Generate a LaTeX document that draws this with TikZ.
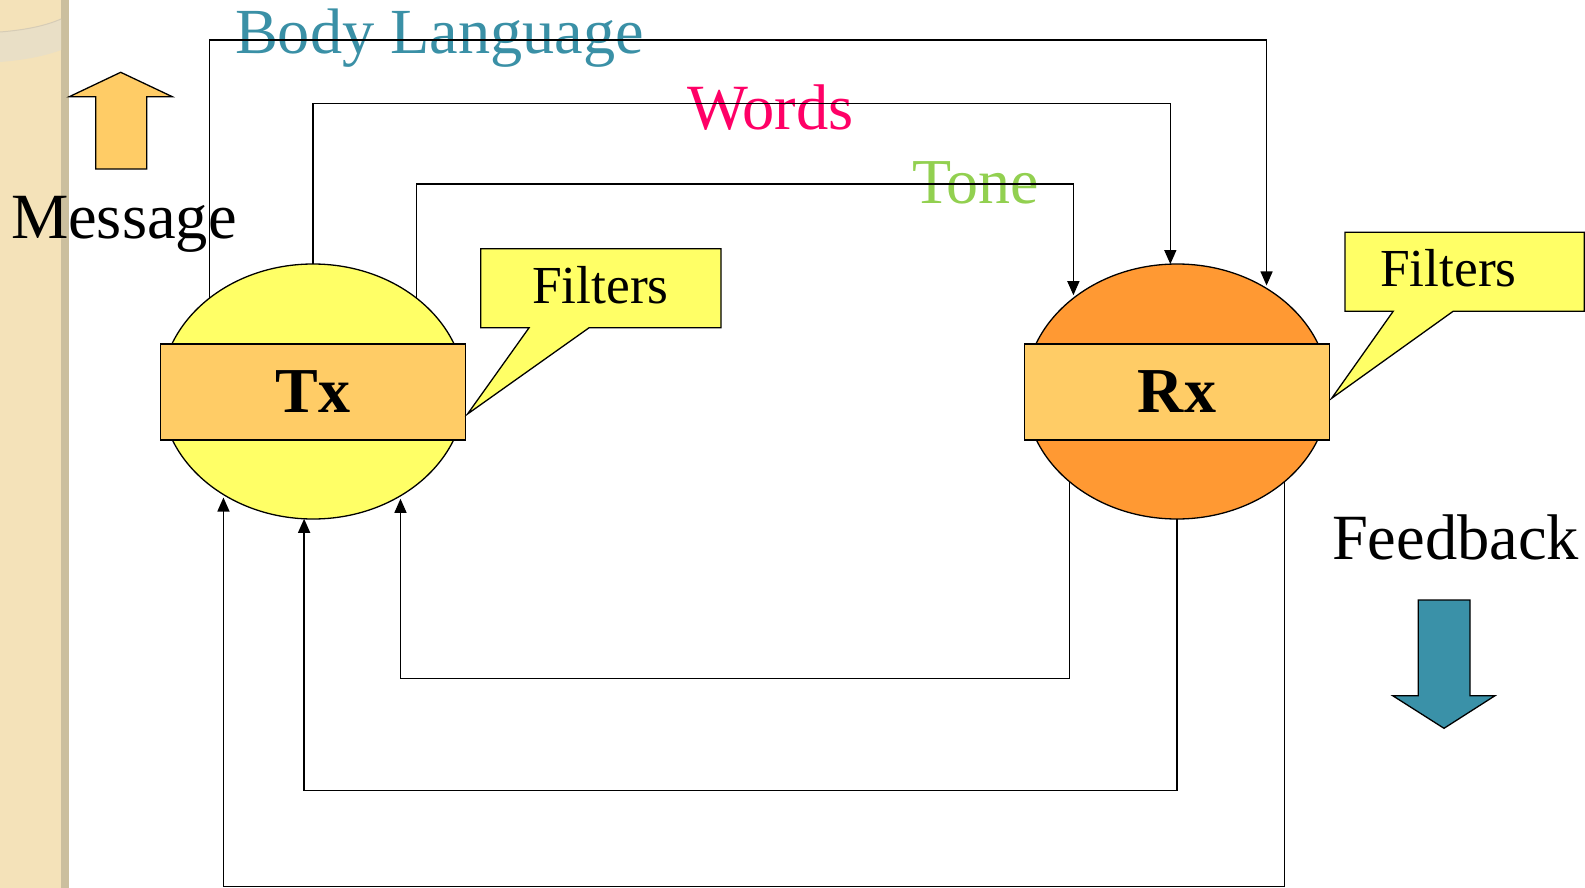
\documentclass[tikz,border=0pt]{standalone}
\usepackage{fontspec}
\setmainfont{Liberation Serif}
\usetikzlibrary{shapes.geometric,shapes.callouts,arrows.meta,calc}
\definecolor{txyellow}{HTML}{FFFF66}
\definecolor{boxorange}{HTML}{FFCC66}
\definecolor{rxorange}{HTML}{FF9933}
\definecolor{bodyteal}{HTML}{3A90A6}
\definecolor{wordpink}{HTML}{FF0066}
\definecolor{tonegreen}{HTML}{92D050}
\definecolor{fbteal}{HTML}{3A91A8}
\definecolor{beige}{HTML}{F4E2B9}
\definecolor{stripe}{HTML}{CBBF9E}
\definecolor{swoosh}{HTML}{E9DFC6}
\definecolor{swooshedge}{HTML}{D6CCB6}
\begin{document}
\begin{tikzpicture}[x=1pt,y=-1pt,
  link/.style={draw=black,line width=1.3pt},
  arr/.style={link,-{Triangle[length=14pt,width=12pt]},shorten >=3pt},
  blob/.style={ellipse,draw,line width=1.3pt,minimum width=304pt,minimum height=255pt,inner sep=0pt,outer sep=0pt},
  band/.style={draw,line width=1.3pt,fill=boxorange,minimum width=304.5pt,minimum height=96pt,inner sep=0pt,outer sep=0pt,font=\fontsize{64}{70}\selectfont\bfseries},
  bubble/.style={rectangle callout,draw,line width=1.3pt,fill=txyellow,minimum height=79pt,inner sep=0pt,outer sep=0pt,callout pointer width=60pt},
  lbl/.style={anchor=base west,inner sep=0pt,outer sep=0pt},
  big/.style={font=\fontsize{64.5}{70}\selectfont},
  filt/.style={font=\fontsize{53.5}{60}\selectfont},
  bigarrow/.style={draw,line width=1.3pt,line join=miter}]
\useasboundingbox (0,0) rectangle (1585,888);
\fill[white] (0,0) rectangle (1585,888);
% left decorative strip
\fill[beige] (0,0) rectangle (61,888);
\fill[stripe] (61,0) rectangle (69,888);
\fill[swoosh] (0,32) .. controls (25,30) and (45,26) .. (61,19) -- (61,50) .. controls (45,56) and (25,60) .. (0,62) -- cycle;
\draw[swooshedge,line width=1pt] (0,32) .. controls (25,30) and (45,26) .. (61,19);
% texts
\node[lbl,text=bodyteal,font=\fontsize{64.3}{70}\selectfont] (tbody) at (235,53.3) {Body Language};
\node[lbl,text=wordpink,font=\fontsize{64.5}{70}\selectfont] (twords) at (687,130) {Words};
\node[lbl,text=tonegreen,font=\fontsize{64}{70}\selectfont] (ttone) at (912,203.3) {Tone};
\node[lbl,big] (tmsg) at (11,238.3) {Message};
\node[lbl,big] (tfb) at (1332,559) {Feedback};
% big arrows
\draw[bigarrow,fill=boxorange] (120.7,72.3) -- (172.3,96.7) -- (146.7,96.7) -- (146.7,169) -- (95.7,169) -- (95.7,96.7) -- (69.3,96.7) -- cycle;
\draw[bigarrow,fill=fbteal] (1418.3,600) -- (1470,600) -- (1470,695.7) -- (1495,695.7) -- (1444,728.3) -- (1392.7,695.7) -- (1418.3,695.7) -- cycle;
% Tx and Rx
\node[blob,fill=txyellow] (tx) at (313,391.5) {};
\node[blob,fill=rxorange] (rx) at (1177,391.5) {};
\node[band] (txbox) at (313,392) {Tx};
\node[band] (rxbox) at (1177,392) {Rx};
% callouts
\node[bubble,minimum width=240.3pt,callout absolute pointer={($(txbox.east)+(2.3,22)$)}] (f1) at (600.9,288.3) {};
\node[lbl,filt] (f1t) at (532,303.3) {Filters};
\node[bubble,minimum width=239.3pt,callout absolute pointer={($(rxbox.east)+(2.4,6.3)$)}] (f2) at (1464.7,271.7) {};
\node[lbl,filt] (f2t) at (1380,286.7) {Filters};
% connectors Tx -> Rx
\coordinate (cbody) at (700,40);
\coordinate (cwords) at (700,103.8);
\coordinate (ctone) at (700,184);
\draw[arr] (tx.138.3) |- (cbody) -| (rx.49.7);
\draw[arr,shorten >=0pt] (tx.north) |- (cwords) -| (rx.93.6);
\draw[arr] (tx.42) |- (ctone) -| (rx.138.3);
% connectors Rx -> Tx (feedback)
\coordinate (fb1) at (700,678.3);
\coordinate (fb2) at (700,790.5);
\coordinate (fb3) at (700,886.5);
\draw[arr] (rx.220.3) |- (fb1) -| (tx.310.6);
\draw[arr,shorten >=0pt] (rx.south) |- (fb2) -| (tx.266);
\draw[arr] (rx.320.3) |- (fb3) -| (tx.229.7);
\end{tikzpicture}
\end{document}
